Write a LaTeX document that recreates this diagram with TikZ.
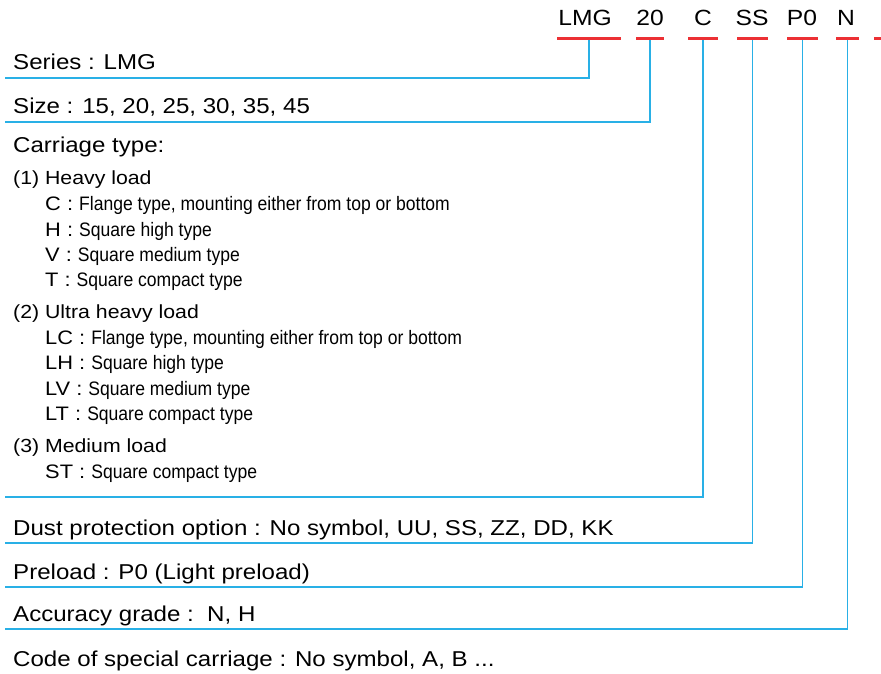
\documentclass[tikz,border=0pt]{standalone}
\usepackage{fontspec}
\setmainfont[FakeStretch=1.12]{Liberation Sans}
\newfontfamily\narrowfont[FakeStretch=0.9]{Liberation Sans}
\usetikzlibrary{positioning}
\definecolor{linkblue}{RGB}{41,176,230}
\definecolor{codered}{RGB}{236,48,52}
\newcommand{\carritem}[2]{#1 : {\narrowfont #2}}

\begin{document}
\begin{tikzpicture}[x=1pt,y=-1pt,
	code/.style={anchor=base,inner sep=0pt,font=\fontsize{22}{24}\selectfont},
	codebar/.style={fill=codered,inner sep=0pt,minimum height=3pt},
	label/.style={anchor=base west,inner sep=0pt,font=\fontsize{21.5}{24}\selectfont},
	group/.style={anchor=base west,inner sep=0pt,font=\fontsize{19}{22}\selectfont},
	item/.style={anchor=base west,inner sep=0pt,font=\fontsize{19.5}{22}\selectfont},
	link/.style={linkblue,line width=1.5pt}]
	\useasboundingbox (0,0) rectangle (881,673);
	% Code
	\node[code] (cLMG) at (585,25) {LMG};
	\node[code] (c20) at (650,25) {20};
	\node[code] (cC) at (703,25) {C};
	\node[code] (cSS) at (752,25) {SS};
	\node[code] (cP0) at (802,25) {P0};
	\node[code] (cN) at (846,25) {N};
	% Bars
	\node[codebar, minimum width=64pt] (bLMG) at (589,38) {};
	\node[codebar, minimum width=28pt] (b20) at (650,38) {};
	\node[codebar, minimum width=30pt] (bC) at (703,38) {};
	\node[codebar, minimum width=31pt] (bSS) at (752.5,38) {};
	\node[codebar, minimum width=31pt] (bP0) at (802.5,38) {};
	\node[codebar, minimum width=23pt] (bN) at (847.5,38) {};
	\node[codebar, minimum width=14pt] (bX) at (881,38) {};
	% Labels
	\node[label] (series) at (13,69) {Series : LMG};
	\node[label] (size) at (13,113) {Size : 15, 20, 25, 30, 35, 45};
	\node[label] (carriage) at (13,152) {Carriage type:};
	\node[group] (heavy) at (13,184) {(1) Heavy load};
	\node[item] (iC) at (45,210) {\carritem{C}{Flange type, mounting either from top or bottom}};
	\node[item] (iH) at (45,236) {\carritem{H}{Square high type}};
	\node[item] (iV) at (45,261) {\carritem{V}{Square medium type}};
	\node[item] (iT) at (45,286) {\carritem{T}{Square compact type}};
	\node[group] (ultra) at (13,318) {(2) Ultra heavy load};
	\node[item] (iLC) at (45,344) {\carritem{LC}{Flange type, mounting either from top or bottom}};
	\node[item] (iLH) at (45,369) {\carritem{LH}{Square high type}};
	\node[item] (iLV) at (45,395) {\carritem{LV}{Square medium type}};
	\node[item] (iLT) at (45,420) {\carritem{LT}{Square compact type}};
	\node[group] (medium) at (13,452) {(3) Medium load};
	\node[item] (iST) at (45,478) {\carritem{ST}{Square compact type}};
	\node[label] (dust) at (13,535) {Dust protection option : No symbol, UU, SS, ZZ, DD, KK};
	\node[label] (preload) at (13,579) {Preload : P0 (Light preload)};
	\node[label] (accuracy) at (13,621) {Accuracy grade :\ \ N, H};
	\node[label] (special) at (13,666) {Code of special carriage : No symbol, A, B ...};
	% Links
	\coordinate (eSeries) at (5,78);
	\coordinate (eSize) at (5,122);
	\coordinate (eCarriage) at (5,497);
	\coordinate (eDust) at (5,543);
	\coordinate (ePreload) at (5,587);
	\coordinate (eAccuracy) at (5,629);
	\draw[link] (bLMG.south) |- (eSeries);
	\draw[link] (b20.south) |- (eSize);
	\draw[link] (bC.south) |- (eCarriage);
	\draw[link] (bSS.south) |- (eDust);
	\draw[link] (bP0.south) |- (ePreload);
	\draw[link] (bN.south) |- (eAccuracy);
\end{tikzpicture}
\end{document}
